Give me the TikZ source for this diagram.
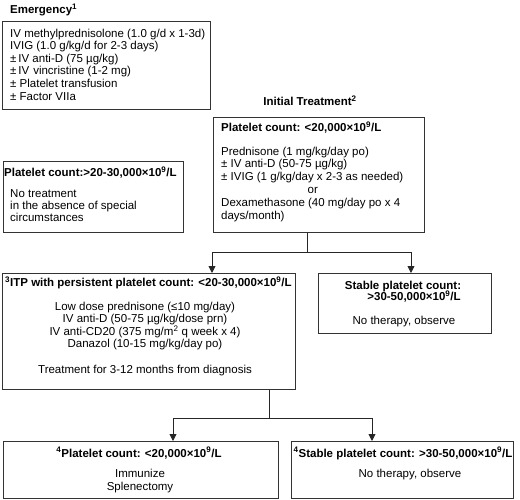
\documentclass[tikz,border=0pt]{standalone}
\usepackage{fontspec}
\setmainfont{Liberation Sans}
\usetikzlibrary{calc,arrows.meta}
\begin{document}
\begin{tikzpicture}[x=1pt,y=-1pt,
  box/.style={draw=black!80,line width=0.9pt,rectangle,inner sep=0pt,anchor=north west},
  txt/.style={inner sep=0pt,font=\fontsize{11.5}{12.5}\selectfont},
  hd/.style={inner sep=0pt,font=\fontsize{11.5}{12}\selectfont\bfseries},
  conn/.style={line width=0.9pt,draw=black!85},
  arr/.style={conn,-{Triangle[length=7pt,width=7pt]}}]
\useasboundingbox (0,0) rectangle (520,500);
% boxes
\node[box,minimum width=208pt,minimum height=88pt] (emg) at (2,21) {};
\node[box,minimum width=211pt,minimum height=115pt] (init) at (213,117) {};
\node[box,minimum width=180pt,minimum height=71pt] (left) at (3,161) {};
\node[box,minimum width=293pt,minimum height=116pt] (itp) at (2,273) {};
\node[box,minimum width=173pt,minimum height=60pt] (stab) at (318,273) {};
\node[box,minimum width=275pt,minimum height=57pt] (bl) at (3,441) {};
\node[box,minimum width=222pt,minimum height=57pt] (br) at (291,441) {};
% titles
\node[hd,anchor=base west] (emgt) at (10,14) {Emergency\textsuperscript{1}};
\node[hd,anchor=base] (initt) at (310,106) {Initial Treatment\textsuperscript{2}};
% emergency text
\node[txt,anchor=north west,align=left,font=\fontsize{11.5}{12.6}\selectfont] (emgb) at (10,28.5)
 {IV methylprednisolone (1.0 g/d x 1-3d)\\
  IVIG (1.0 g/kg/d for 2-3 days)\\
  ±\,IV anti-D (75 µg/kg)\\
  ±\,IV\hspace{4pt}vincristine (1-2 mg)\\
  ± Platelet transfusion\\
  ± Factor VIIa};
% initial
\node[hd,anchor=base west] (inith) at (221,132) {Platelet count: <20,000×10\textsuperscript{9}/L};
\node[txt,anchor=north west,align=left,font=\fontsize{11.5}{12.8}\selectfont] (initb) at (221,146.5)
 {Prednisone (1 mg/kg/day po)\\
  ± IV anti-D (50-75 µg/kg)\\
  ± IVIG (1 g/kg/day x 2-3 as needed)\\
  \hspace*{86.5pt}or\\
  Dexamethasone (40 mg/day po x 4\\
  days/month)};
% left
\node[hd,anchor=base west] (lefth) at (4,177) {Platelet count:>20-30,000×10\textsuperscript{9}/L};
\node[txt,anchor=north west,align=left,font=\fontsize{11.5}{12}\selectfont] (leftb) at (10,189.5)
 {No treatment\\ in the absence of special\\ circumstances};
% itp
\node[hd,anchor=base west] (itph) at (5,287) {\textsuperscript{3}ITP with persistent platelet count: <20-30,000×10\textsuperscript{9}/L};
\node[txt,anchor=north,align=center,font=\fontsize{11.5}{12}\selectfont] (itpb) at (145,301.5)
 {Low dose prednisone (≤10 mg/day)\\
  IV anti-D (50-75 µg/kg/dose prn)\\
  IV anti-CD20 (375 mg/m\textsuperscript{2} q week x 4)\\
  Danazol (10-15 mg/kg/day po)\\[14pt]
  Treatment for 3-12 months from diagnosis};
% stable
\node[hd,anchor=base] (stabh1) at (403,289) {Stable platelet count:};
\node[hd,anchor=base] (stabh2) at (414,301) {>30-50,000×10\textsuperscript{9}/L};
\node[txt,anchor=base] (stabb) at (404,324) {No therapy, observe};
% bottom left
\node[hd,anchor=base] (blh) at (139,457) {\textsuperscript{4}Platelet count: <20,000×10\textsuperscript{9}/L};
\node[txt,anchor=north,align=center,font=\fontsize{11.5}{13.5}\selectfont] (blb) at (140,468.8) {Immunize\\ Splenectomy};
% bottom right
\node[hd,anchor=base] (brh) at (403,457) {\textsuperscript{4}Stable platelet count: >30-50,000×10\textsuperscript{9}/L};
\node[txt,anchor=base] (brb) at (410,477) {No therapy, observe};
% connectors
\coordinate (j1) at ($(init.south west)+(94,20)$);
\draw[conn] ($(init.south west)+(94,0)$) -- (j1);
\draw[arr] (j1) -| ($(itp.north west)+(210,0)$);
\draw[arr] (j1) -| ($(stab.north west)+(93,0)$);
\coordinate (j2) at ($(itp.south west)+(267,29)$);
\draw[conn] ($(itp.south west)+(267,0)$) -- (j2);
\draw[arr] (j2) -| ($(bl.north west)+(170,0)$);
\draw[arr] (j2) -| ($(br.north west)+(81,0)$);
\end{tikzpicture}
\end{document}
